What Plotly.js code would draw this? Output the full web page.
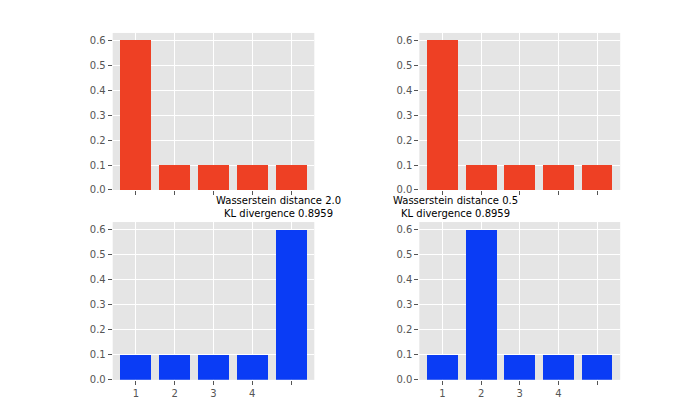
<!DOCTYPE html>
<html><head><script src="https://cdn.plot.ly/plotly-3.0.1.min.js"></script></head>
<body style="margin:0"><div id="c" style="width:700px;height:412px"></div>
<script>
const cats=[1,2,3,4,5];
const tickLabels=['1','2','3','4',''];
const p=[0.6,0.1,0.1,0.1,0.1];
const q1=[0.1,0.1,0.1,0.1,0.6];
const q2=[0.1,0.6,0.1,0.1,0.1];
const titles=['Wasserstein distance 2.0<br>KL divergence 0.8959','Wasserstein distance 0.5<br>KL divergence 0.8959'];
const red='#EE4024', blue='#0A3CF5';
const traces=[
 {x:cats,y:p,xaxis:'x',yaxis:'y',color:red},
 {x:cats,y:p,xaxis:'x2',yaxis:'y2',color:red},
 {x:cats,y:q1,xaxis:'x3',yaxis:'y3',color:blue},
 {x:cats,y:q2,xaxis:'x4',yaxis:'y4',color:blue}
].map(t=>({type:'bar',x:t.x,y:t.y,xaxis:t.xaxis,yaxis:t.yaxis,width:0.8,marker:{color:t.color},hoverinfo:'none'}));
const f={family:'DejaVu Sans',size:10,color:'#555'};
function xa(d,labels){return {domain:d,range:[0.4,5.6],tickvals:cats,ticktext:labels?tickLabels:['','','','',''],ticks:'outside',ticklen:4,tickcolor:'#555',gridcolor:'#fff',showline:false,zeroline:false,tickfont:f,fixedrange:true};}
function ya(d,anchor){return {domain:d,anchor:anchor,range:[0,0.63],dtick:0.1,tickformat:'.1f',ticks:'outside',ticklen:4,tickcolor:'#555',gridcolor:'#fff',zeroline:false,tickfont:f,fixedrange:true};}
const L=[0.161,0.449],R=[0.599,0.886],T=[0.539,0.920],B=[0.078,0.461];
const layout={showlegend:false,margin:{l:0,r:0,t:0,b:0},paper_bgcolor:'#fff',plot_bgcolor:'#E5E5E5',bargap:0,
 xaxis:Object.assign(xa(L,false),{anchor:'y'}),yaxis:ya(T,'x'),
 xaxis2:Object.assign(xa(R,false),{anchor:'y2'}),yaxis2:ya(T,'x2'),
 xaxis3:Object.assign(xa(L,true),{anchor:'y3'}),yaxis3:ya(B,'x3'),
 xaxis4:Object.assign(xa(R,true),{anchor:'y4'}),yaxis4:ya(B,'x4'),
 annotations:[
  {text:titles[0],xref:'paper',yref:'paper',x:(L[0]+L[1])/2,y:B[1]+0.003,yanchor:'bottom',showarrow:false,font:{family:'DejaVu Sans',size:10,color:'#000'}},
  {text:titles[1],xref:'paper',yref:'paper',x:(R[0]+R[1])/2,y:B[1]+0.003,yanchor:'bottom',showarrow:false,font:{family:'DejaVu Sans',size:10,color:'#000'}}
 ]};
Plotly.newPlot('c',traces,layout,{staticPlot:true});
</script></body></html>
